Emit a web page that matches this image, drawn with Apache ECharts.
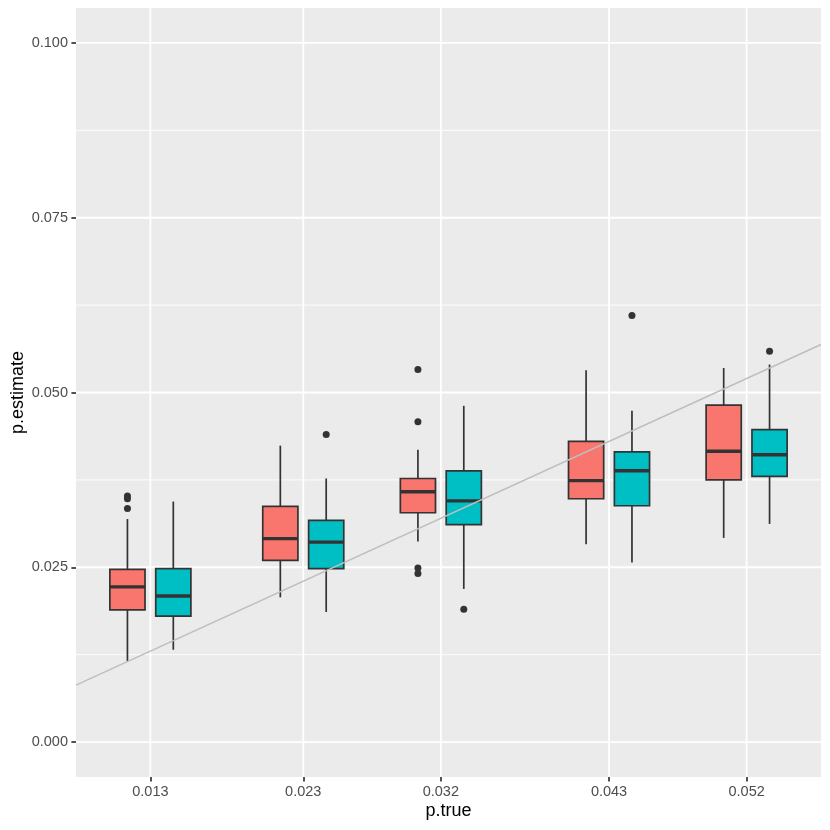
<!DOCTYPE html>
<html>
<head>
<meta charset="utf-8">
<script src="https://cdn.jsdelivr.net/npm/echarts@6/dist/echarts.min.js"></script>
<style>
  html, body { margin: 0; padding: 0; background: #fff; }
  #main { width: 830px; height: 830px; }
</style>
</head>
<body>
<div id="main"></div>
<script>
var pTrue = [0.013, 0.023, 0.032, 0.043, 0.052];
// box stats per p.true: [lower whisker, q1, median, q3, upper whisker]
var redBoxes = [
  [0.0116, 0.0189, 0.0222, 0.0247, 0.0319],
  [0.0207, 0.0260, 0.0291, 0.0337, 0.0424],
  [0.0287, 0.0328, 0.0358, 0.0377, 0.0418],
  [0.0283, 0.0348, 0.0374, 0.0430, 0.0532],
  [0.0292, 0.0375, 0.0416, 0.0482, 0.0535]
];
var tealBoxes = [
  [0.0132, 0.0180, 0.0209, 0.0248, 0.0344],
  [0.0186, 0.0248, 0.0286, 0.0317, 0.0377],
  [0.0219, 0.0311, 0.0345, 0.0388, 0.0481],
  [0.0257, 0.0338, 0.0388, 0.0415, 0.0474],
  [0.0312, 0.0380, 0.0411, 0.0447, 0.0540]
];
var redOutliers = [[0.013, 0.0352], [0.013, 0.0348], [0.013, 0.0334],
  [0.032, 0.0533], [0.032, 0.0458], [0.032, 0.0249], [0.032, 0.0241]];
var tealOutliers = [[0.023, 0.0440], [0.032, 0.0190], [0.043, 0.0610], [0.052, 0.0559]];
var yBreaks = [0, 0.025, 0.05, 0.075, 0.1];
var yMinor = [0.0125, 0.0375, 0.0625, 0.0875];

var dodge = 0.0015;
var boxHalf = 0.00115;
var font = 'Liberation Sans, Arial, Helvetica, sans-serif';

// ggplot style range: data range plus 5% each side
var xLo = pTrue[0] - dodge - boxHalf;
var xHi = pTrue[pTrue.length - 1] + dodge + boxHalf;
var xPad = (xHi - xLo) * 0.05;
xLo -= xPad; xHi += xPad;
var yLo = -0.005, yHi = 0.105;

function boxData(boxes) {
  return boxes.map(function (b, i) { return [pTrue[i]].concat(b); });
}
function shiftOut(pts, off) {
  return pts.map(function (p) { return [p[0] + off, p[1]]; });
}

function boxRenderer(off, fill) {
  return function (params, api) {
    var x = api.value(0) + off;
    var pLow = api.coord([x, api.value(1)]);
    var pQ1 = api.coord([x - boxHalf, api.value(2)]);
    var pMed = api.coord([x, api.value(3)]);
    var pQ3 = api.coord([x + boxHalf, api.value(4)]);
    var pHigh = api.coord([x, api.value(5)]);
    var stroke = '#333333';
    return {
      type: 'group',
      children: [
        { type: 'line', shape: { x1: pLow[0], y1: pLow[1], x2: pLow[0], y2: pQ1[1] },
          style: { stroke: stroke, lineWidth: 1.7 } },
        { type: 'line', shape: { x1: pHigh[0], y1: pQ3[1], x2: pHigh[0], y2: pHigh[1] },
          style: { stroke: stroke, lineWidth: 1.7 } },
        { type: 'rect', shape: { x: pQ1[0], y: pQ3[1], width: pQ3[0] - pQ1[0], height: pQ1[1] - pQ3[1] },
          style: { fill: fill, stroke: stroke, lineWidth: 1.7 } },
        { type: 'line', shape: { x1: pQ1[0], y1: pMed[1], x2: pQ3[0], y2: pMed[1] },
          style: { stroke: stroke, lineWidth: 3.4 } }
      ]
    };
  };
}

// panel grid lines: [orientation, value, width]
function gridData() {
  var d = [];
  yMinor.forEach(function (v) { d.push([0, v, 0.9]); });
  yBreaks.forEach(function (v) { d.push([0, v, 1.8]); });
  pTrue.forEach(function (v) { d.push([1, v, 1.8]); });
  return d;
}
function gridRenderer(params, api) {
  var cs = params.coordSys;
  var vertical = api.value(0) === 1;
  var v = api.value(1);
  var shape;
  if (vertical) {
    var px = api.coord([v, yLo])[0];
    shape = { x1: px, y1: cs.y, x2: px, y2: cs.y + cs.height };
  } else {
    var py = api.coord([xLo, v])[1];
    shape = { x1: cs.x, y1: py, x2: cs.x + cs.width, y2: py };
  }
  return { type: 'line', shape: shape, style: { stroke: '#ffffff', lineWidth: api.value(2) } };
}

var myChart = echarts.init(document.getElementById('main'));
var option = {
  animation: false,
  backgroundColor: '#ffffff',
  grid: {
    left: 76, right: 9, top: 8, bottom: 53,
    outerBoundsMode: 'none',
    containLabel: false,
    show: true, backgroundColor: '#EBEBEB', borderWidth: 0
  },
  xAxis: {
    type: 'value',
    position: 'bottom',
    min: xLo, max: xHi,
    name: 'p.true',
    nameLocation: 'middle',
    nameGap: 25,
    nameMoveOverlap: false,
    nameTextStyle: { color: '#000', fontSize: 18, fontFamily: font },
    axisLine: { show: false, onZero: false },
    splitLine: { show: false },
    minorSplitLine: { show: false },
    axisTick: { show: true, inside: false, length: 4.6, customValues: pTrue,
      lineStyle: { color: '#333333', width: 1.7 } },
    axisLabel: { customValues: pTrue, margin: 7, color: '#4D4D4D', fontSize: 14.5, fontFamily: font,
      formatter: function (v) { return v.toFixed(3); } }
  },
  yAxis: {
    type: 'value',
    min: yLo, max: yHi,
    name: 'p.estimate',
    nameLocation: 'middle',
    nameGap: 49,
    nameMoveOverlap: false,
    nameTextStyle: { color: '#000', fontSize: 18, fontFamily: font },
    axisLine: { show: false, onZero: false },
    splitLine: { show: false },
    minorSplitLine: { show: false },
    axisTick: { show: true, inside: false, length: 4.6, customValues: yBreaks,
      lineStyle: { color: '#333333', width: 1.7 } },
    axisLabel: { customValues: yBreaks, margin: 8, color: '#4D4D4D', fontSize: 14.5, fontFamily: font,
      formatter: function (v) { return v.toFixed(3); } }
  },
  series: [
    {
      name: 'grid',
      type: 'custom',
      z: 1,
      silent: true,
      renderItem: gridRenderer,
      data: gridData()
    },
    {
      name: 'red',
      type: 'custom',
      z: 2,
      renderItem: boxRenderer(-dodge, '#F8766D'),
      encode: { x: 0, y: [1, 2, 3, 4, 5] },
      data: boxData(redBoxes)
    },
    {
      name: 'teal',
      type: 'custom',
      z: 2,
      renderItem: boxRenderer(dodge, '#00BFC4'),
      encode: { x: 0, y: [1, 2, 3, 4, 5] },
      data: boxData(tealBoxes)
    },
    {
      name: 'red outliers',
      type: 'scatter',
      z: 3,
      symbolSize: 7,
      itemStyle: { color: '#333333', opacity: 1 },
      data: shiftOut(redOutliers, -dodge)
    },
    {
      name: 'teal outliers',
      type: 'scatter',
      z: 3,
      symbolSize: 7,
      itemStyle: { color: '#333333', opacity: 1 },
      data: shiftOut(tealOutliers, dodge)
    },
    {
      name: 'y = x',
      type: 'line',
      z: 4,
      symbol: 'none',
      silent: true,
      lineStyle: { color: '#BEBEBE', width: 1.5 },
      data: [[xLo, xLo], [xHi, xHi]]
    }
  ]
};
myChart.setOption(option);
</script>
</body>
</html>
